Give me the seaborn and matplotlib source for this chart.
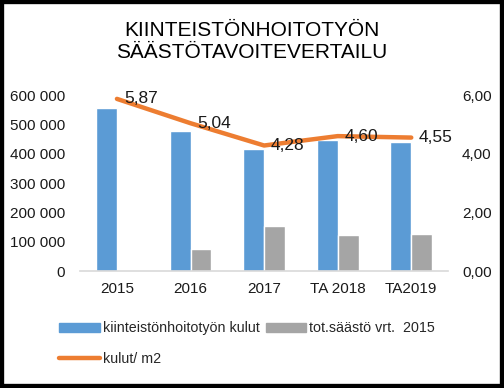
import numpy as np
import pandas as pd
import matplotlib
matplotlib.use("Agg")
import matplotlib.pyplot as plt
import seaborn as sns
from matplotlib.ticker import FuncFormatter, FixedLocator
from matplotlib.patches import Rectangle, Patch
from matplotlib.lines import Line2D

categories = ["2015", "2016", "2017", "TA 2018", "TA2019"]
kulut = [555000, 477000, 416000, 446000, 440000]
saasto = [0, 75000, 152000, 123000, 126000]
kulut_m2 = [5.87, 5.04, 4.28, 4.60, 4.55]
labels_m2 = ["5,87", "5,04", "4,28", "4,60", "4,55"]

s1 = "kiinteistönhoitotyön kulut"
s2 = "tot.säästö vrt.  2015"
s3 = "kulut/ m2"

sns.set_theme(style="white")
plt.rcParams["font.family"] = ["Liberation Sans", "DejaVu Sans"]

df = pd.DataFrame({
    "cat": categories * 2,
    "val": kulut + saasto,
    "series": [s1] * len(categories) + [s2] * len(categories),
})

fig = plt.figure(figsize=(5.04, 3.88), dpi=100)
ax = fig.add_axes([0.159, 0.3015, 0.730, 0.4535])
sns.barplot(data=df, x="cat", y="val", hue="series", order=categories,
            palette=["#5B9BD5", "#A5A5A5"], width=0.57, ax=ax, legend=False,
            saturation=1)
ax.set_ylim(0, 600000)
ax.yaxis.set_major_locator(FixedLocator(np.arange(0, 600001, 100000)))
ax.yaxis.set_major_formatter(FuncFormatter(lambda v, p: f"{int(v):,}".replace(",", " ")))
ax.set_xlabel("")
ax.set_ylabel("")
for sp in ["top", "left", "right"]:
    ax.spines[sp].set_visible(False)
ax.spines["bottom"].set_color("#D9D9D9")
ax.spines["bottom"].set_linewidth(1.2)
ax.tick_params(axis="both", length=0, labelsize=11, colors="#1a1a1a")
ax.tick_params(axis="y", pad=11)
ax.tick_params(axis="x", pad=8)
ax.set_xlim(-0.5, len(categories) - 0.5)

ax2 = ax.twinx()
xs = np.arange(len(categories))
sns.lineplot(x=xs, y=kulut_m2, ax=ax2, color="#ED7D31", linewidth=3.2, sort=False)
ax2.set_ylim(0, 6)
ax2.yaxis.set_major_locator(FixedLocator([0, 2, 4, 6]))
ax2.yaxis.set_major_formatter(FuncFormatter(lambda v, p: f"{v:.2f}".replace(".", ",")))
for sp in ax2.spines.values():
    sp.set_visible(False)
ax2.tick_params(axis="y", length=0, labelsize=11, colors="#1a1a1a", pad=10)
ax2.set_xlim(-0.5, len(categories) - 0.5)
for x, y, t in zip(xs, kulut_m2, labels_m2):
    ax2.annotate(t, (x, y), xytext=(5, 0), textcoords="offset points",
                 ha="left", va="center", fontsize=12.5, color="#1a1a1a")

fig.text(0.5, 0.892, "KIINTEISTÖNHOITOTYÖN\nSÄÄSTÖTAVOITEVERTAILU", ha="center", va="center",
         fontsize=15, color="black", linespacing=1.2)

handles = [Patch(color="#5B9BD5"), Line2D([0], [0], color="#ED7D31", lw=3.2, solid_capstyle="round"),
           Patch(color="#A5A5A5")]
fig.legend(handles, [s1, s3, s2], ncol=2, loc="upper left", bbox_to_anchor=(0.118, 0.172),
           frameon=False, fontsize=10.3, handlelength=2.8, handleheight=0.55, handletextpad=0.25,
           columnspacing=0.4, labelspacing=1.15, borderaxespad=0, borderpad=0)

fig.add_artist(Rectangle((0, 0), 1, 1, transform=fig.transFigure, fill=False,
                         edgecolor="black", linewidth=6))
fig.savefig("out.png", dpi=100)
